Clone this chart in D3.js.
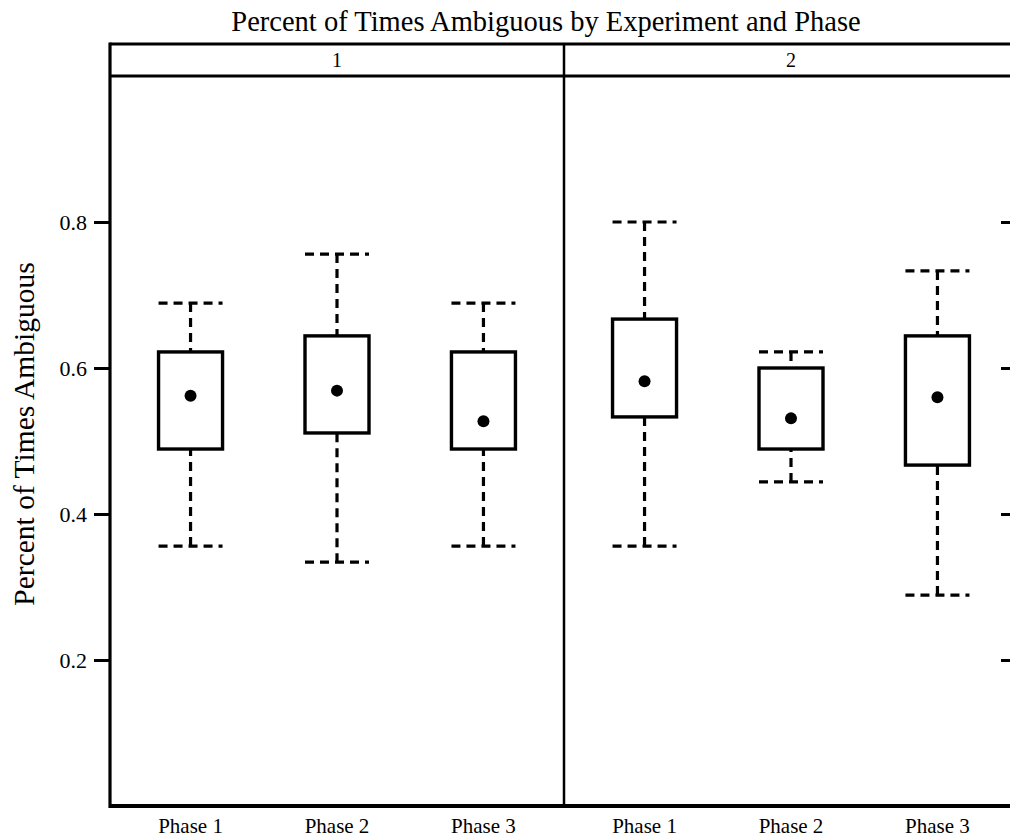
<!DOCTYPE html>
<html>
<head>
<meta charset="utf-8">
<script src="https://cdn.jsdelivr.net/npm/d3@7/dist/d3.min.js"></script>
<style>
  html, body { margin: 0; padding: 0; background: #fff; }
  svg { display: block; font-family: "Liberation Serif", "Times New Roman", serif; }
</style>
</head>
<body>
<svg id="chart" width="1010" height="840"></svg>
<script>
// ---- data ----
const experiments = ["1", "2"];
const phases = ["Phase 1", "Phase 2", "Phase 3"];
const lowerWhisker = [[0.356, 0.334, 0.356], [0.356, 0.444, 0.289]];
const quartile1    = [[0.489, 0.511, 0.489], [0.533, 0.489, 0.467]];
const medians      = [[0.562, 0.569, 0.527], [0.582, 0.531, 0.560]];
const quartile3    = [[0.622, 0.644, 0.622], [0.667, 0.600, 0.644]];
const upperWhisker = [[0.689, 0.756, 0.689], [0.800, 0.622, 0.733]];
const yTicks = [0.2, 0.4, 0.6, 0.8];
const titleText = "Percent of Times Ambiguous by Experiment and Phase";
const yTitle = "Percent of Times Ambiguous";

// ---- layout ----
const svg = d3.select("#chart");
const leftX = 110, panelW = 454, topY = 44, stripH = 32, bottomY = 806;
const plotTop = topY + stripH;

const y = d3.scaleLinear().domain([0, 1]).range([bottomY, plotTop]);
const panelX = d3.scaleBand().domain(experiments).range([leftX, leftX + panelW * experiments.length]).padding(0);
const x = d3.scalePoint().domain(phases).range([0, panelW]).padding(0.55);
const boxW = x.step() * 0.437;

// title
svg.append("text").attr("x", 546).attr("y", 31).attr("text-anchor", "middle")
  .attr("font-size", 28.5).text(titleText);

// y axis title
svg.append("text").attr("transform", "translate(34,434) rotate(-90)")
  .attr("text-anchor", "middle").attr("font-size", 29.5).text(yTitle);

// left axis
const yAxis = svg.append("g").attr("transform", `translate(${leftX - 1},0)`)
  .call(d3.axisLeft(y).tickValues(yTicks).tickSize(15).tickPadding(7).tickFormat(d3.format(".1f")));
yAxis.select(".domain").remove();
yAxis.selectAll("line").attr("stroke-width", 3).attr("stroke", "#000");
yAxis.selectAll("text").attr("font-size", 22).attr("font-family", "Liberation Serif, Times New Roman, serif").attr("fill", "#000");

// right axis ticks (inward from the clipped right frame)
const rightX = leftX + panelW * experiments.length;
const rAxis = svg.append("g").attr("transform", `translate(${rightX},0)`)
  .call(d3.axisLeft(y).tickValues(yTicks).tickSize(17).tickFormat(""));
rAxis.select(".domain").remove();
rAxis.selectAll("line").attr("stroke-width", 3).attr("stroke", "#000");

// panels
experiments.forEach((exp, ei) => {
  const px = panelX(exp);
  const g = svg.append("g").attr("transform", `translate(${px},0)`);

  // strip label
  g.append("text").attr("x", panelW / 2).attr("y", plotTop - 9).attr("text-anchor", "middle")
    .attr("font-size", 20).text(exp);

  phases.forEach((ph, pi) => {
    const cx = x(ph);
    const lw = lowerWhisker[ei][pi], q1 = quartile1[ei][pi], md = medians[ei][pi],
          q3 = quartile3[ei][pi], uw = upperWhisker[ei][pi];
    const dash = "9,6";
    // whiskers (from cap toward the box)
    g.append("line").attr("x1", cx).attr("x2", cx).attr("y1", y(uw)).attr("y2", y(q3))
      .attr("stroke", "#000").attr("stroke-width", 3.2).attr("stroke-dasharray", dash);
    g.append("line").attr("x1", cx).attr("x2", cx).attr("y1", y(lw)).attr("y2", y(q1))
      .attr("stroke", "#000").attr("stroke-width", 3.2).attr("stroke-dasharray", dash);
    // caps
    [uw, lw].forEach(v => {
      g.append("line").attr("x1", cx - boxW / 2).attr("x2", cx + boxW / 2)
        .attr("y1", y(v)).attr("y2", y(v))
        .attr("stroke", "#000").attr("stroke-width", 3.2).attr("stroke-dasharray", dash);
    });
    // box
    g.append("rect").attr("x", cx - boxW / 2).attr("y", y(q3))
      .attr("width", boxW).attr("height", y(q1) - y(q3))
      .attr("fill", "#fff").attr("stroke", "#000").attr("stroke-width", 3.4);
    // median dot
    g.append("circle").attr("cx", cx).attr("cy", y(md)).attr("r", 6).attr("fill", "#000");
    // x label
    g.append("text").attr("x", cx).attr("y", bottomY + 27).attr("text-anchor", "middle")
      .attr("font-size", 21).text(ph);
  });
});

// frame
const frame = svg.append("g").attr("fill", "none").attr("stroke", "#000");
frame.append("line").attr("x1", leftX).attr("x2", rightX + 2).attr("y1", topY).attr("y2", topY).attr("stroke-width", 3.2);
frame.append("line").attr("x1", leftX).attr("x2", rightX + 2).attr("y1", plotTop).attr("y2", plotTop).attr("stroke-width", 2.8);
frame.append("line").attr("x1", leftX).attr("x2", rightX + 2).attr("y1", bottomY).attr("y2", bottomY).attr("stroke-width", 4);
frame.append("line").attr("x1", leftX).attr("x2", leftX).attr("y1", topY - 1.5).attr("y2", bottomY + 2).attr("stroke-width", 3.2);
frame.append("line").attr("x1", leftX + panelW).attr("x2", leftX + panelW).attr("y1", topY).attr("y2", bottomY).attr("stroke-width", 2.5);
frame.append("line").attr("x1", rightX).attr("x2", rightX).attr("y1", topY).attr("y2", bottomY).attr("stroke-width", 3);
</script>
</body>
</html>
